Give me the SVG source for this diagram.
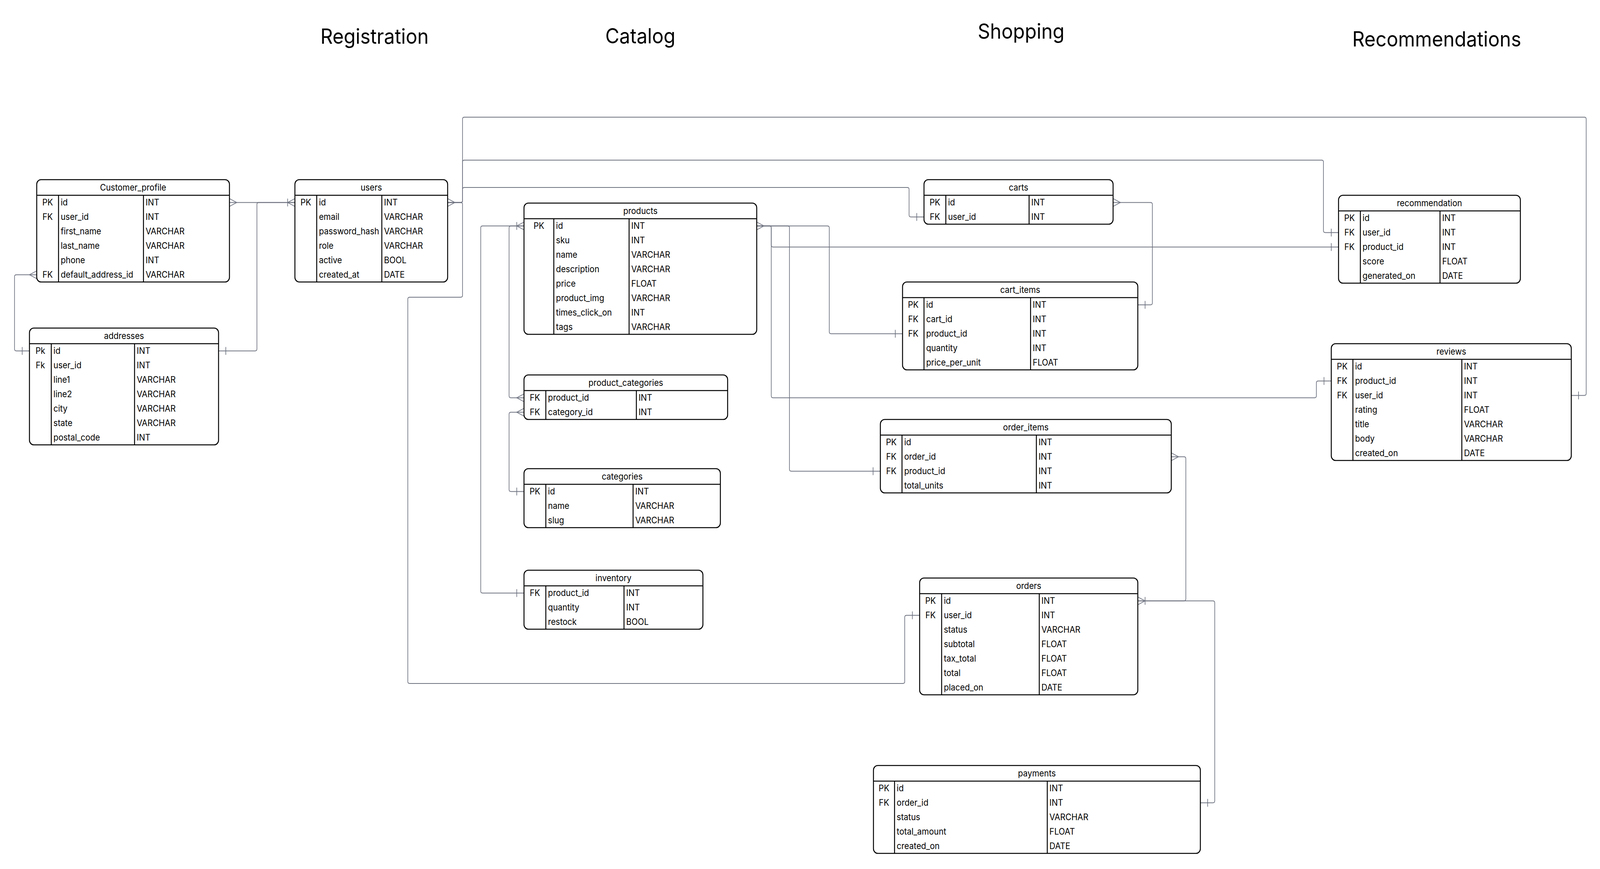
<svg xmlns="http://www.w3.org/2000/svg" width="4400" height="2225" viewBox="0 0 4400 2225" preserveAspectRatio="none">
<style>
svg{width:100vw;height:100vh}
text{font-family:Inter,"Liberation Sans",sans-serif;fill:#000}
.title{font-size:53px;text-anchor:middle}
.hdr{font-size:22.5px;text-anchor:middle}
.f{font-size:22.5px}
.k{font-size:22.5px;text-anchor:middle}
.box{fill:#fff;stroke:#000;stroke-width:2.6}
.div{stroke:#000;stroke-width:2.6}
.con{fill:none;stroke:#6e7380;stroke-width:1.8}
.mk{fill:none;stroke:#6e7380;stroke-width:1.8}
</style>
<defs>
<marker id="sMany" markerUnits="userSpaceOnUse" orient="auto" overflow="visible" markerWidth="1" markerHeight="1"><path class="mk" d="M0,-10 L20,0 L0,10"/></marker>
<marker id="sOne" markerUnits="userSpaceOnUse" orient="auto" overflow="visible" markerWidth="1" markerHeight="1"><path class="mk" d="M20,-10 V10"/></marker>
<marker id="sOneMany" markerUnits="userSpaceOnUse" orient="auto" overflow="visible" markerWidth="1" markerHeight="1"><path class="mk" d="M0,-10 L20,0 L0,10 M20,-10 V10"/></marker>
<marker id="eOne" markerUnits="userSpaceOnUse" orient="auto" overflow="visible" markerWidth="1" markerHeight="1"><path class="mk" d="M-20,-10 V10"/></marker>
<marker id="eMany" markerUnits="userSpaceOnUse" orient="auto" overflow="visible" markerWidth="1" markerHeight="1"><path class="mk" d="M0,-10 L-20,0 L0,10"/></marker>
<marker id="eOneMany" markerUnits="userSpaceOnUse" orient="auto" overflow="visible" markerWidth="1" markerHeight="1"><path class="mk" d="M0,-10 L-20,0 L0,10 M-20,-10 V10"/></marker>
</defs>
<rect width="4400" height="2225" fill="#fff"/>
<g id="titles">
<text class="title" x="1030" y="112">Registration</text>
<text class="title" x="1761" y="111">Catalog</text>
<text class="title" x="2808" y="99">Shopping</text>
<text class="title" x="3951" y="119">Recommendations</text>
</g>
<g id="connectors">
<path class="con" marker-start="url(#sMany)" marker-end="url(#eOne)" d="M101,703.5 H45 Q40,703.5 40,708.5 V893.5 Q40,898.5 45,898.5 H81"/>
<path class="con" marker-start="url(#sMany)" marker-end="url(#eOneMany)" d="M631,518.5 H811"/>
<path class="con" marker-start="url(#sOne)" d="M601,898.5 H701.5 Q706.5,898.5 706.5,893.5 V523.5 Q706.5,518.5 711.5,518.5 H811"/>
<path class="con" marker-start="url(#sMany)" marker-end="url(#eOne)" d="M1231,518.5 H1267 Q1272,518.5 1272,513.5 V305 Q1272,300 1277,300 H4357 Q4362,300 4362,305 V1007.5 Q4362,1012.5 4357,1012.5 H4321"/>
<path class="con" marker-end="url(#eOne)" d="M1231,518.5 H1267 Q1272,518.5 1272,513.5 V415 Q1272,410 1277,410 H3634.5 Q3639.5,410 3639.5,415 V590.5 Q3639.5,595.5 3644.5,595.5 H3681"/>
<path class="con" marker-end="url(#eOne)" d="M1231,518.5 H1267 Q1272,518.5 1272,513.5 V485 Q1272,480 1277,480 H2495 Q2500,480 2500,485 V550.5 Q2500,555.5 2505,555.5 H2541"/>
<path class="con" marker-end="url(#eOne)" d="M1231,518.5 H1267 Q1272,518.5 1272,523.5 V756 Q1272,761 1267,761 H1126.5 Q1121.5,761 1121.5,766 V1745 Q1121.5,1750 1126.5,1750 H2483 Q2488,1750 2488,1745 V1580.5 Q2488,1575.5 2493,1575.5 H2529"/>
<path class="con" marker-start="url(#sOneMany)" marker-end="url(#eMany)" d="M1441,578.5 H1405 Q1400,578.5 1400,583.5 V1013.5 Q1400,1018.5 1405,1018.5 H1441"/>
<path class="con" marker-end="url(#eOne)" d="M1441,578.5 H1327 Q1322,578.5 1322,583.5 V1513.5 Q1322,1518.5 1327,1518.5 H1441"/>
<path class="con" marker-start="url(#sMany)" marker-end="url(#eOne)" d="M1441,1055.5 H1405 Q1400,1055.5 1400,1060.5 V1253.5 Q1400,1258.5 1405,1258.5 H1441"/>
<path class="con" marker-start="url(#sMany)" marker-end="url(#eOne)" d="M2081,578.5 H2116 Q2121,578.5 2121,583.5 V627.5 Q2121,632.5 2126,632.5 H3681"/>
<path class="con" marker-end="url(#eOne)" d="M2081,578.5 H2116 Q2121,578.5 2121,583.5 V1013.5 Q2121,1018.5 2126,1018.5 H3615 Q3620,1018.5 3620,1013.5 V980.5 Q3620,975.5 3625,975.5 H3661"/>
<path class="con" marker-end="url(#eOne)" d="M2081,578.5 H2166 Q2171,578.5 2171,583.5 V1201.5 Q2171,1206.5 2176,1206.5 H2421"/>
<path class="con" marker-end="url(#eOne)" d="M2081,578.5 H2275.5 Q2280.5,578.5 2280.5,583.5 V849.5 Q2280.5,854.5 2285.5,854.5 H2482"/>
<path class="con" marker-start="url(#sMany)" marker-end="url(#eOne)" d="M3061,518.5 H3164 Q3169,518.5 3169,523.5 V775.5 Q3169,780.5 3164,780.5 H3129"/>
<path class="con" marker-start="url(#sMany)" marker-end="url(#eOneMany)" d="M3221,1169.5 H3256 Q3261,1169.5 3261,1174.5 V1533.5 Q3261,1538.5 3256,1538.5 H3129"/>
<path class="con" marker-end="url(#eOne)" d="M3129,1538.5 H3335.5 Q3340.5,1538.5 3340.5,1543.5 V2050.5 Q3340.5,2055.5 3335.5,2055.5 H3301"/>
</g>
<g id="customer_profile">
<rect class="box" x="101" y="460" width="530" height="262" rx="12"/>
<line class="div" x1="101" y1="500" x2="631" y2="500"/>
<line class="div" x1="161" y1="500" x2="161" y2="722"/>
<line class="div" x1="394.5" y1="500" x2="394.5" y2="722"/>
<text class="hdr" x="366" y="488">Customer_profile</text>
<text class="k" x="131" y="526.5">PK</text><text class="f" x="167" y="526.5">id</text><text class="f" x="400.5" y="526.5">INT</text>
<text class="k" x="131" y="563.5">FK</text><text class="f" x="167" y="563.5">user_id</text><text class="f" x="400.5" y="563.5">INT</text>
<text class="f" x="167" y="600.5">first_name</text><text class="f" x="400.5" y="600.5">VARCHAR</text>
<text class="f" x="167" y="637.5">last_name</text><text class="f" x="400.5" y="637.5">VARCHAR</text>
<text class="f" x="167" y="674.5">phone</text><text class="f" x="400.5" y="674.5">INT</text>
<text class="k" x="131" y="711.5">FK</text><text class="f" x="167" y="711.5">default_address_id</text><text class="f" x="400.5" y="711.5">VARCHAR</text>
</g>
<g id="addresses">
<rect class="box" x="81" y="840" width="520" height="299" rx="12"/>
<line class="div" x1="81" y1="880" x2="601" y2="880"/>
<line class="div" x1="141" y1="880" x2="141" y2="1139"/>
<line class="div" x1="370" y1="880" x2="370" y2="1139"/>
<text class="hdr" x="341" y="868">addresses</text>
<text class="k" x="111" y="906.5">Pk</text><text class="f" x="147" y="906.5">id</text><text class="f" x="376" y="906.5">INT</text>
<text class="k" x="111" y="943.5">Fk</text><text class="f" x="147" y="943.5">user_id</text><text class="f" x="376" y="943.5">INT</text>
<text class="f" x="147" y="980.5">line1</text><text class="f" x="376" y="980.5">VARCHAR</text>
<text class="f" x="147" y="1017.5">line2</text><text class="f" x="376" y="1017.5">VARCHAR</text>
<text class="f" x="147" y="1054.5">city</text><text class="f" x="376" y="1054.5">VARCHAR</text>
<text class="f" x="147" y="1091.5">state</text><text class="f" x="376" y="1091.5">VARCHAR</text>
<text class="f" x="147" y="1128.5">postal_code</text><text class="f" x="376" y="1128.5">INT</text>
</g>
<g id="users">
<rect class="box" x="811" y="460" width="420" height="262" rx="12"/>
<line class="div" x1="811" y1="500" x2="1231" y2="500"/>
<line class="div" x1="871" y1="500" x2="871" y2="722"/>
<line class="div" x1="1050" y1="500" x2="1050" y2="722"/>
<text class="hdr" x="1021" y="488">users</text>
<text class="k" x="841" y="526.5">PK</text><text class="f" x="877" y="526.5">id</text><text class="f" x="1056" y="526.5">INT</text>
<text class="f" x="877" y="563.5">email</text><text class="f" x="1056" y="563.5">VARCHAR</text>
<text class="f" x="877" y="600.5">password_hash</text><text class="f" x="1056" y="600.5">VARCHAR</text>
<text class="f" x="877" y="637.5">role</text><text class="f" x="1056" y="637.5">VARCHAR</text>
<text class="f" x="877" y="674.5">active</text><text class="f" x="1056" y="674.5">BOOL</text>
<text class="f" x="877" y="711.5">created_at</text><text class="f" x="1056" y="711.5">DATE</text>
</g>
<g id="products">
<rect class="box" x="1441" y="520" width="640" height="336" rx="12"/>
<line class="div" x1="1441" y1="560" x2="2081" y2="560"/>
<line class="div" x1="1523" y1="560" x2="1523" y2="856"/>
<line class="div" x1="1730" y1="560" x2="1730" y2="856"/>
<text class="hdr" x="1761" y="548">products</text>
<text class="k" x="1482" y="586.5">PK</text><text class="f" x="1529" y="586.5">id</text><text class="f" x="1736" y="586.5">INT</text>
<text class="f" x="1529" y="623.5">sku</text><text class="f" x="1736" y="623.5">INT</text>
<text class="f" x="1529" y="660.5">name</text><text class="f" x="1736" y="660.5">VARCHAR</text>
<text class="f" x="1529" y="697.5">description</text><text class="f" x="1736" y="697.5">VARCHAR</text>
<text class="f" x="1529" y="734.5">price</text><text class="f" x="1736" y="734.5">FLOAT</text>
<text class="f" x="1529" y="771.5">product_img</text><text class="f" x="1736" y="771.5">VARCHAR</text>
<text class="f" x="1529" y="808.5">times_click_on</text><text class="f" x="1736" y="808.5">INT</text>
<text class="f" x="1529" y="845.5">tags</text><text class="f" x="1736" y="845.5">VARCHAR</text>
</g>
<g id="product_categories">
<rect class="box" x="1441" y="960" width="560" height="114" rx="12"/>
<line class="div" x1="1441" y1="1000" x2="2001" y2="1000"/>
<line class="div" x1="1501" y1="1000" x2="1501" y2="1074"/>
<line class="div" x1="1750" y1="1000" x2="1750" y2="1074"/>
<text class="hdr" x="1721" y="988">product_categories</text>
<text class="k" x="1471" y="1026.5">FK</text><text class="f" x="1507" y="1026.5">product_id</text><text class="f" x="1756" y="1026.5">INT</text>
<text class="k" x="1471" y="1063.5">FK</text><text class="f" x="1507" y="1063.5">category_id</text><text class="f" x="1756" y="1063.5">INT</text>
</g>
<g id="categories">
<rect class="box" x="1441" y="1200" width="540" height="151" rx="12"/>
<line class="div" x1="1441" y1="1240" x2="1981" y2="1240"/>
<line class="div" x1="1501" y1="1240" x2="1501" y2="1351"/>
<line class="div" x1="1741" y1="1240" x2="1741" y2="1351"/>
<text class="hdr" x="1711" y="1228">categories</text>
<text class="k" x="1471" y="1266.5">PK</text><text class="f" x="1507" y="1266.5">id</text><text class="f" x="1747" y="1266.5">INT</text>
<text class="f" x="1507" y="1303.5">name</text><text class="f" x="1747" y="1303.5">VARCHAR</text>
<text class="f" x="1507" y="1340.5">slug</text><text class="f" x="1747" y="1340.5">VARCHAR</text>
</g>
<g id="inventory">
<rect class="box" x="1441" y="1460" width="492" height="151" rx="12"/>
<line class="div" x1="1441" y1="1500" x2="1933" y2="1500"/>
<line class="div" x1="1501" y1="1500" x2="1501" y2="1611"/>
<line class="div" x1="1716" y1="1500" x2="1716" y2="1611"/>
<text class="hdr" x="1687" y="1488">inventory</text>
<text class="k" x="1471" y="1526.5">FK</text><text class="f" x="1507" y="1526.5">product_id</text><text class="f" x="1722" y="1526.5">INT</text>
<text class="f" x="1507" y="1563.5">quantity</text><text class="f" x="1722" y="1563.5">INT</text>
<text class="f" x="1507" y="1600.5">restock</text><text class="f" x="1722" y="1600.5">BOOL</text>
</g>
<g id="carts">
<rect class="box" x="2541" y="460" width="520" height="114" rx="12"/>
<line class="div" x1="2541" y1="500" x2="3061" y2="500"/>
<line class="div" x1="2601" y1="500" x2="2601" y2="574"/>
<line class="div" x1="2830" y1="500" x2="2830" y2="574"/>
<text class="hdr" x="2801" y="488">carts</text>
<text class="k" x="2571" y="526.5">PK</text><text class="f" x="2607" y="526.5">id</text><text class="f" x="2836" y="526.5">INT</text>
<text class="k" x="2571" y="563.5">FK</text><text class="f" x="2607" y="563.5">user_id</text><text class="f" x="2836" y="563.5">INT</text>
</g>
<g id="cart_items">
<rect class="box" x="2482" y="722" width="647" height="225" rx="12"/>
<line class="div" x1="2482" y1="762" x2="3129" y2="762"/>
<line class="div" x1="2541" y1="762" x2="2541" y2="947"/>
<line class="div" x1="2834" y1="762" x2="2834" y2="947"/>
<text class="hdr" x="2805.5" y="750">cart_items</text>
<text class="k" x="2511.5" y="788.5">PK</text><text class="f" x="2547" y="788.5">id</text><text class="f" x="2840" y="788.5">INT</text>
<text class="k" x="2511.5" y="825.5">FK</text><text class="f" x="2547" y="825.5">cart_id</text><text class="f" x="2840" y="825.5">INT</text>
<text class="k" x="2511.5" y="862.5">FK</text><text class="f" x="2547" y="862.5">product_id</text><text class="f" x="2840" y="862.5">INT</text>
<text class="f" x="2547" y="899.5">quantity</text><text class="f" x="2840" y="899.5">INT</text>
<text class="f" x="2547" y="936.5">price_per_unit</text><text class="f" x="2840" y="936.5">FLOAT</text>
</g>
<g id="order_items">
<rect class="box" x="2421" y="1074" width="800" height="188" rx="12"/>
<line class="div" x1="2421" y1="1114" x2="3221" y2="1114"/>
<line class="div" x1="2480.5" y1="1114" x2="2480.5" y2="1262"/>
<line class="div" x1="2850" y1="1114" x2="2850" y2="1262"/>
<text class="hdr" x="2821" y="1102">order_items</text>
<text class="k" x="2451" y="1140.5">PK</text><text class="f" x="2486.5" y="1140.5">id</text><text class="f" x="2856" y="1140.5">INT</text>
<text class="k" x="2451" y="1177.5">FK</text><text class="f" x="2486.5" y="1177.5">order_id</text><text class="f" x="2856" y="1177.5">INT</text>
<text class="k" x="2451" y="1214.5">FK</text><text class="f" x="2486.5" y="1214.5">product_id</text><text class="f" x="2856" y="1214.5">INT</text>
<text class="f" x="2486.5" y="1251.5">total_units</text><text class="f" x="2856" y="1251.5">INT</text>
</g>
<g id="orders">
<rect class="box" x="2529" y="1480" width="600" height="299" rx="12"/>
<line class="div" x1="2529" y1="1520" x2="3129" y2="1520"/>
<line class="div" x1="2589.5" y1="1520" x2="2589.5" y2="1779"/>
<line class="div" x1="2858" y1="1520" x2="2858" y2="1779"/>
<text class="hdr" x="2829" y="1508">orders</text>
<text class="k" x="2559" y="1546.5">PK</text><text class="f" x="2595.5" y="1546.5">id</text><text class="f" x="2864" y="1546.5">INT</text>
<text class="k" x="2559" y="1583.5">FK</text><text class="f" x="2595.5" y="1583.5">user_id</text><text class="f" x="2864" y="1583.5">INT</text>
<text class="f" x="2595.5" y="1620.5">status</text><text class="f" x="2864" y="1620.5">VARCHAR</text>
<text class="f" x="2595.5" y="1657.5">subtotal</text><text class="f" x="2864" y="1657.5">FLOAT</text>
<text class="f" x="2595.5" y="1694.5">tax_total</text><text class="f" x="2864" y="1694.5">FLOAT</text>
<text class="f" x="2595.5" y="1731.5">total</text><text class="f" x="2864" y="1731.5">FLOAT</text>
<text class="f" x="2595.5" y="1768.5">placed_on</text><text class="f" x="2864" y="1768.5">DATE</text>
</g>
<g id="payments">
<rect class="box" x="2402" y="1960" width="899" height="225" rx="12"/>
<line class="div" x1="2402" y1="2000" x2="3301" y2="2000"/>
<line class="div" x1="2460" y1="2000" x2="2460" y2="2185"/>
<line class="div" x1="2880" y1="2000" x2="2880" y2="2185"/>
<text class="hdr" x="2851.5" y="1988">payments</text>
<text class="k" x="2431" y="2026.5">PK</text><text class="f" x="2466" y="2026.5">id</text><text class="f" x="2886" y="2026.5">INT</text>
<text class="k" x="2431" y="2063.5">FK</text><text class="f" x="2466" y="2063.5">order_id</text><text class="f" x="2886" y="2063.5">INT</text>
<text class="f" x="2466" y="2100.5">status</text><text class="f" x="2886" y="2100.5">VARCHAR</text>
<text class="f" x="2466" y="2137.5">total_amount</text><text class="f" x="2886" y="2137.5">FLOAT</text>
<text class="f" x="2466" y="2174.5">created_on</text><text class="f" x="2886" y="2174.5">DATE</text>
</g>
<g id="recommendation">
<rect class="box" x="3681" y="500" width="500" height="225" rx="12"/>
<line class="div" x1="3681" y1="540" x2="4181" y2="540"/>
<line class="div" x1="3741" y1="540" x2="3741" y2="725"/>
<line class="div" x1="3960" y1="540" x2="3960" y2="725"/>
<text class="hdr" x="3931" y="528">recommendation</text>
<text class="k" x="3711" y="566.5">PK</text><text class="f" x="3747" y="566.5">id</text><text class="f" x="3966" y="566.5">INT</text>
<text class="k" x="3711" y="603.5">FK</text><text class="f" x="3747" y="603.5">user_id</text><text class="f" x="3966" y="603.5">INT</text>
<text class="k" x="3711" y="640.5">FK</text><text class="f" x="3747" y="640.5">product_id</text><text class="f" x="3966" y="640.5">INT</text>
<text class="f" x="3747" y="677.5">score</text><text class="f" x="3966" y="677.5">FLOAT</text>
<text class="f" x="3747" y="714.5">generated_on</text><text class="f" x="3966" y="714.5">DATE</text>
</g>
<g id="reviews">
<rect class="box" x="3661" y="880" width="660" height="299" rx="12"/>
<line class="div" x1="3661" y1="920" x2="4321" y2="920"/>
<line class="div" x1="3720.5" y1="920" x2="3720.5" y2="1179"/>
<line class="div" x1="4020" y1="920" x2="4020" y2="1179"/>
<text class="hdr" x="3991" y="908">reviews</text>
<text class="k" x="3691" y="946.5">PK</text><text class="f" x="3726.5" y="946.5">id</text><text class="f" x="4026" y="946.5">INT</text>
<text class="k" x="3691" y="983.5">FK</text><text class="f" x="3726.5" y="983.5">product_id</text><text class="f" x="4026" y="983.5">INT</text>
<text class="k" x="3691" y="1020.5">FK</text><text class="f" x="3726.5" y="1020.5">user_id</text><text class="f" x="4026" y="1020.5">INT</text>
<text class="f" x="3726.5" y="1057.5">rating</text><text class="f" x="4026" y="1057.5">FLOAT</text>
<text class="f" x="3726.5" y="1094.5">title</text><text class="f" x="4026" y="1094.5">VARCHAR</text>
<text class="f" x="3726.5" y="1131.5">body</text><text class="f" x="4026" y="1131.5">VARCHAR</text>
<text class="f" x="3726.5" y="1168.5">created_on</text><text class="f" x="4026" y="1168.5">DATE</text>
</g>
</svg>
